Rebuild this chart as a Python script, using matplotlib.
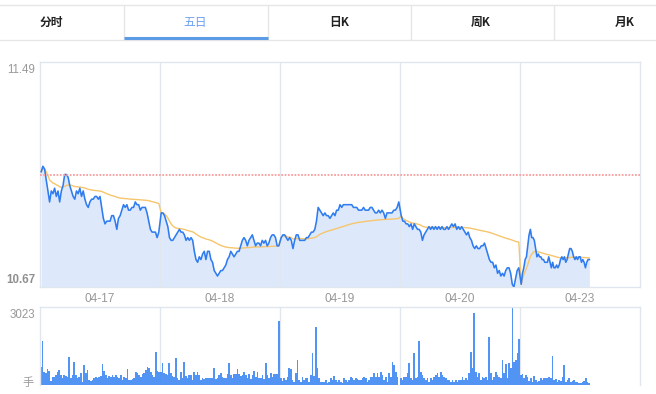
import numpy as np
import matplotlib
matplotlib.use('Agg')
import matplotlib.pyplot as plt
from matplotlib.patches import Rectangle

plt.rcParams['font.family'] = ['Liberation Sans', 'Noto Sans CJK SC', 'DejaVu Sans']

tabs = ['分时', '五日', '日K', '周K', '月K']
active_tab = 1
dates = ['04-17', '04-18', '04-19', '04-20', '04-23']
prev_close = 11.08
y_top_label = '11.49'
y_bottom_label = '10.67'
y_top = 11.49
y_bottom = 10.67
vol_max = 3023
vol_unit = '手'

price_d1 = [11.09, 11.11, 11.10, 11.06, 11.02, 10.98, 11.02, 11.01, 11.03, 11.00, 11.02, 10.98,
            11.02, 11.04, 11.08, 11.08, 11.07, 11.04, 11.02, 11.00, 10.99, 11.02, 11.01, 11.03,
            11.00, 11.02, 10.99, 10.97, 10.96, 10.98, 10.99, 10.99, 11.00, 11.00, 10.99, 11.00,
            10.96, 10.92, 10.90, 10.91, 10.91, 10.91, 10.93, 10.93, 10.91, 10.88, 10.92, 10.93,
            10.95, 10.97, 10.96, 10.97, 10.95, 10.95, 10.96, 10.96, 10.98, 10.97, 10.97, 10.95,
            10.96, 10.96, 10.96, 10.94, 10.91, 10.88, 10.87, 10.87, 10.87, 10.85, 10.87]
price_d2 = [10.94, 10.94, 10.93, 10.91, 10.89, 10.85, 10.84, 10.84, 10.85, 10.86, 10.87, 10.88,
            10.87, 10.87, 10.86, 10.84, 10.85, 10.84, 10.85, 10.84, 10.80, 10.77, 10.76, 10.78,
            10.77, 10.79, 10.80, 10.77, 10.80, 10.80, 10.77, 10.76, 10.73, 10.72, 10.71, 10.72,
            10.73, 10.73, 10.74, 10.75, 10.77, 10.78, 10.80, 10.79, 10.78, 10.79, 10.80, 10.80,
            10.82, 10.84, 10.85, 10.84, 10.82, 10.84, 10.85, 10.86, 10.84, 10.82, 10.83, 10.83,
            10.82, 10.84, 10.83, 10.84, 10.82, 10.83, 10.85, 10.86, 10.86, 10.85, 10.82, 10.82]
price_d3 = [10.85, 10.86, 10.86, 10.85, 10.84, 10.85, 10.84, 10.81, 10.84, 10.86, 10.86, 10.84,
            10.84, 10.84, 10.84, 10.85, 10.85, 10.86, 10.87, 10.87, 10.88, 10.91, 10.96, 10.95,
            10.94, 10.93, 10.94, 10.93, 10.93, 10.92, 10.93, 10.94, 10.93, 10.95, 10.95, 10.97,
            10.96, 10.97, 10.97, 10.97, 10.97, 10.97, 10.97, 10.96, 10.96, 10.96, 10.95, 10.95,
            10.95, 10.96, 10.95, 10.95, 10.95, 10.96, 10.96, 10.95, 10.94, 10.94, 10.95, 10.94,
            10.95, 10.94, 10.92, 10.94, 10.94, 10.94, 10.94, 10.95, 10.95, 10.96, 10.98]
price_d4 = [10.93, 10.91, 10.91, 10.90, 10.90, 10.89, 10.90, 10.88, 10.90, 10.89, 10.88, 10.88,
            10.87, 10.84, 10.86, 10.87, 10.88, 10.89, 10.88, 10.89, 10.88, 10.89, 10.88, 10.89,
            10.88, 10.89, 10.88, 10.88, 10.89, 10.88, 10.89, 10.90, 10.89, 10.90, 10.88, 10.89,
            10.88, 10.89, 10.88, 10.87, 10.86, 10.87, 10.85, 10.84, 10.82, 10.81, 10.82, 10.81,
            10.81, 10.82, 10.82, 10.83, 10.81, 10.79, 10.77, 10.76, 10.76, 10.74, 10.75, 10.72,
            10.73, 10.71, 10.72, 10.71, 10.73, 10.74, 10.74, 10.72, 10.68, 10.67, 10.70, 10.73,
            10.74]
price_d5 = [10.68, 10.72, 10.74, 10.77, 10.78, 10.82, 10.86, 10.88, 10.85, 10.85, 10.84, 10.81,
            10.78, 10.79, 10.78, 10.78, 10.77, 10.77, 10.76, 10.76, 10.76, 10.78, 10.76, 10.74,
            10.76, 10.74, 10.74, 10.75, 10.74, 10.75, 10.77, 10.78, 10.77, 10.78, 10.76, 10.77,
            10.79, 10.81, 10.81, 10.80, 10.78, 10.77, 10.78, 10.77, 10.78, 10.78, 10.76, 10.77,
            10.76, 10.74, 10.76, 10.77, 10.77]

vol_d1 = [713, 1686, 519, 454, 623, 545, 156, 324, 324, 389, 519, 571, 389, 259, 389, 363, 324,
          1102, 259, 389, 908, 389, 259, 324, 454, 104, 778, 454, 584, 195, 156, 195, 259, 324,
          285, 324, 350, 804, 545, 389, 285, 363, 324, 389, 324, 389, 324, 259, 389, 195, 324,
          259, 623, 195, 195, 233, 259, 493, 454, 389, 324, 415, 454, 584, 713, 649, 519, 389,
          324, 1297, 545, 519]
vol_d2 = [519, 869, 454, 415, 389, 843, 454, 363, 324, 1064, 259, 195, 493, 285, 908, 363, 259,
          389, 389, 195, 493, 389, 493, 389, 195, 259, 233, 259, 259, 259, 285, 259, 674, 233,
          259, 389, 454, 324, 259, 285, 415, 843, 389, 285, 415, 441, 623, 415, 363, 389, 519,
          389, 259, 415, 233, 389, 545, 324, 519, 259, 285, 389, 233, 843, 389, 285, 454, 324,
          428, 441, 415, 2490]
vol_d3 = [258, 168, 258, 194, 323, 646, 607, 194, 129, 452, 969, 194, 129, 323, 194, 258, 258,
          129, 388, 1253, 349, 2261, 646, 258, 129, 129, 129, 194, 90, 129, 258, 194, 349, 194,
          129, 194, 129, 90, 258, 194, 129, 194, 323, 258, 194, 258, 220, 194, 194, 258, 323,
          258, 129, 194, 323, 323, 452, 323, 452, 323, 517, 388, 194, 323, 129, 452, 323, 904,
          775, 517, 323]
vol_d4 = [258, 194, 323, 323, 452, 840, 258, 194, 1227, 258, 323, 1705, 517, 388, 258, 194, 258,
          129, 258, 194, 323, 388, 452, 323, 517, 388, 323, 258, 194, 194, 129, 194, 129, 194,
          129, 194, 194, 323, 194, 258, 194, 452, 1292, 646, 2804, 517, 323, 452, 194, 323, 258,
          323, 194, 1873, 452, 194, 323, 517, 388, 323, 258, 969, 452, 801, 258, 840, 646, 3023,
          904, 969, 1227, 1770]
vol_d5 = [389, 415, 285, 389, 324, 156, 285, 104, 363, 195, 104, 156, 259, 195, 285, 285, 285,
          324, 285, 1128, 195, 233, 130, 195, 169, 324, 778, 130, 195, 285, 104, 156, 195, 130,
          104, 65, 65, 130, 156, 285, 104, 78]

price_days = [price_d1, price_d2, price_d3, price_d4, price_d5]
vol_days = [vol_d1, vol_d2, vol_d3, vol_d4, vol_d5]
bars_per_day = 72
last_day_frac = 0.578

# build x positions (in day units) and daily running average
xs, ps, ms = [], [], []
for d, p in enumerate(price_days):
    p = np.asarray(p, float)
    end = 0.99 if d < len(price_days) - 1 else last_day_frac
    xs.append(d + np.linspace(0.01, end, len(p)))
    ps.append(p)
    ms.append(np.cumsum(p) / np.arange(1, len(p) + 1))
x = np.concatenate(xs)
price = np.concatenate(ps)
avg = np.concatenate(ms)

xv, vv = [], []
for d, v in enumerate(vol_days):
    xv.append(d + (np.arange(len(v)) + 0.5) / bars_per_day)
    vv.append(np.asarray(v, float))
xv = np.concatenate(xv)
vv = np.concatenate(vv)

W, H = 656, 394
fig = plt.figure(figsize=(W / 100, H / 100), dpi=100)
fig.patch.set_facecolor('white')

# background/pixel-coordinate axes for tabs and labels
bg = fig.add_axes([0, 0, 1, 1], zorder=0)
bg.set_xlim(0, W)
bg.set_ylim(H, 0)
bg.axis('off')

grid_c = '#dfe6ee'
tab_line = '#e6e6e6'
bg.plot([0, W], [4.5, 4.5], color=tab_line, lw=1)
bg.plot([0, W], [39.5, 39.5], color=tab_line, lw=1)
seps = [124, 268, 411, 554]
for s in seps:
    bg.plot([s, s], [5, 39], color=tab_line, lw=1)
tab_centers = [51, 195, 339, 481, 625]
for i, (t, cx) in enumerate(zip(tabs, tab_centers)):
    if i == active_tab:
        bg.text(cx, 22, t, ha='center', va='center', fontsize=8.5, color='#6b9ff0',
                family=['Noto Sans CJK SC', 'DejaVu Sans'])
    else:
        bg.text(cx, 22, t, ha='center', va='center', fontsize=8.5, color='#222222',
                fontweight='bold', family=['Noto Sans CJK SC', 'DejaVu Sans'])
bg.plot([124, 268], [38, 38], color='#5c9be6', lw=2.2, solid_capstyle='butt')

lab_c = '#999999'
bg.text(35, 70, y_top_label, ha='right', va='center', fontsize=8.3, color=lab_c)
bg.text(35, 280, y_bottom_label, ha='right', va='center', fontsize=8.3, color='#8f8f8f',
        fontweight='bold')
bg.text(35, 315, str(vol_max), ha='right', va='center', fontsize=8.3, color=lab_c)
unit = bg.text(28, 377, vol_unit, ha='center', va='top', fontsize=8, color=lab_c,
               family=['Noto Sans CJK SC', 'DejaVu Sans'])
clip = Rectangle((0, 0), W, H - 385, transform=None, visible=False)
fig.add_artist(clip)
unit.set_clip_path(clip)
for d, lab in enumerate(dates):
    bg.text(100 + 120 * d, 299, lab, ha='center', va='center', fontsize=8.6, color=lab_c)

# price axes
ax = fig.add_axes([40 / W, 1 - 287 / H, 600 / W, 225 / H], zorder=2)
ax.set_facecolor('none')
ax.set_xlim(0, 5)
ax.set_ylim(y_bottom, y_top)
ax.fill_between(x, price, y_bottom, color='#dde9fb', lw=0, zorder=1)
for d in range(1, 5):
    ax.axvline(d, color=grid_c, lw=1, zorder=2)
ax.plot(x, avg, color='#f6c56e', lw=1.0, zorder=3)
ax.plot(x, price, color='#2f7cf0', lw=1.15, zorder=4)
ax.axhline(prev_close, color='#f7a3a3', lw=1.4, ls=(0, (0.9, 0.8)), zorder=5)
ax.set_xticks([])
ax.set_yticks([])
for sp in ax.spines.values():
    sp.set_color(grid_c)
    sp.set_linewidth(1)

# volume axes
axv = fig.add_axes([40 / W, 1 - 385 / H, 600 / W, 78 / H], zorder=2)
axv.set_facecolor('none')
axv.set_xlim(0, 5)
axv.set_ylim(0, vol_max)
for d in range(1, 5):
    axv.axvline(d, color=grid_c, lw=1, zorder=1)
axv.bar(xv, vv, width=0.9 / bars_per_day, color='#3f89f3', lw=0, alpha=0.9, zorder=2)
axv.set_xticks([])
axv.set_yticks([])
for sp in axv.spines.values():
    sp.set_color(grid_c)
    sp.set_linewidth(1)
axv.spines['bottom'].set_visible(False)

fig.savefig('out.png', dpi=100, facecolor='white')
